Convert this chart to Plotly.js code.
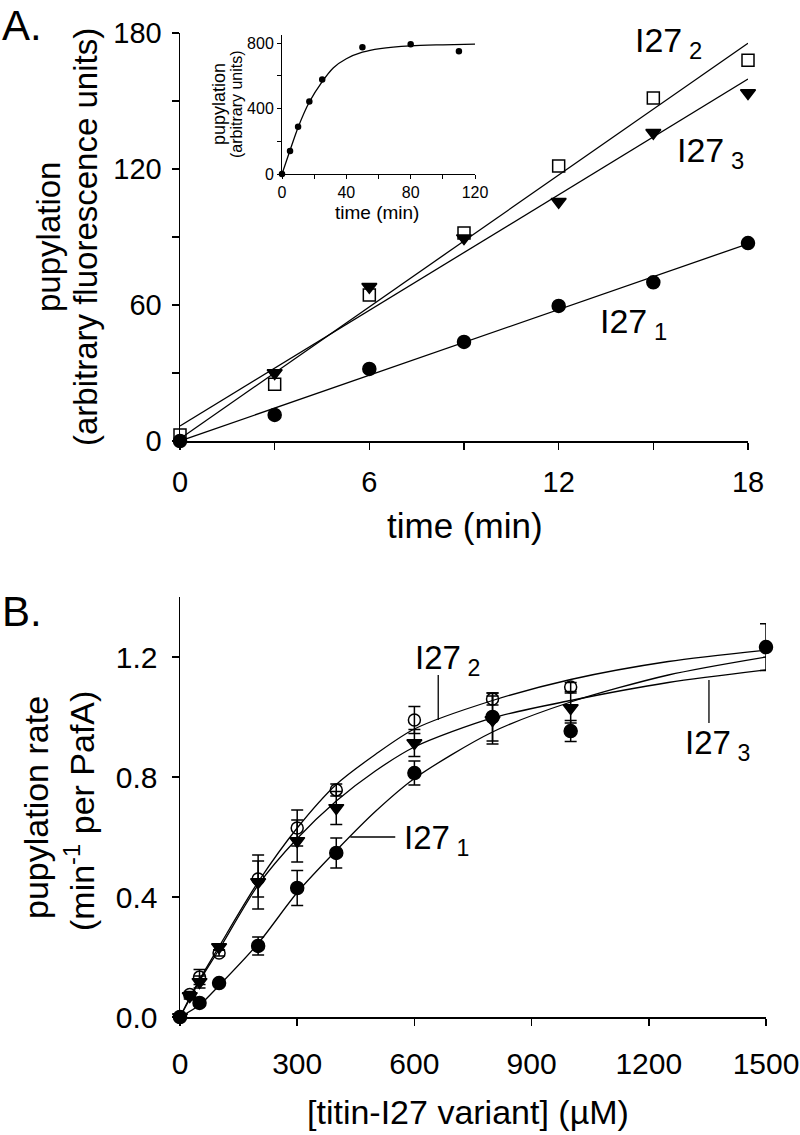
<!DOCTYPE html>
<html>
<head>
<meta charset="utf-8">
<script src="https://cdn.plot.ly/plotly-3.0.1.min.js"></script>
<style>
  html, body { margin: 0; padding: 0; background: #fff; }
  #chart { width: 800px; height: 1135px; }
</style>
</head>
<body>
<div id="chart"></div>
<script>
  // ---- panel A: pupylation vs time ----
  const aTime = [0, 3, 6, 9, 12, 15, 18];
  const aI27_1 = [0, 11.5, 31.8, 43.7, 59.6, 70, 87.3];
  const aI27_2 = [2.6, 25, 64.4, 91.8, 121.3, 151.3, 168];
  const aI27_3 = [-1, 30, 68, 89.5, 105.5, 136, 153.5];

  // linear fits, read at both ends of the axis
  const aFitTime = [0, 18];
  const aFit1 = [0, 87];
  const aFit2 = [1, 175.5];
  const aFit3 = [6.6, 159.7];

  const aTickX = [0, 3, 6, 9, 12, 15, 18];
  const aTickXText = ["0", "", "6", "", "12", "", "18"];
  const aTickY = [0, 30, 60, 90, 120, 150, 180];
  const aTickYText = ["0", "", "60", "", "120", "", "180"];

  // ---- inset: long time course ----
  const inTime = [0, 5, 10, 17, 25, 50, 80, 110];
  const inValue = [0, 141, 289, 443, 578, 775, 794, 750];
  const inFitTime = [0, 5, 10, 17, 25, 32, 40, 50, 61, 80, 100, 120];
  const inFitValue = [0, 145, 285, 440, 565, 650, 705, 745, 767, 784, 790, 794];
  const inTickX = [0, 20, 40, 60, 80, 100, 120];
  const inTickXText = ["0", "", "40", "", "80", "", "120"];
  const inTickY = [0, 200, 400, 600, 800];
  const inTickYText = ["0", "", "400", "", "800"];

  // ---- panel B: rate vs concentration ----
  const bConc1 = [0, 50, 100, 200, 300, 400, 600, 800, 1000, 1500];
  const bRate1 = [0, 0.047, 0.113, 0.237, 0.43, 0.547, 0.813, 1.0, 0.953, 1.233];
  const bErr1 = [0, 0.005, 0.01, 0.03, 0.058, 0.05, 0.04, 0.08, 0.035, 0.078];

  const bConc2 = [0, 25, 50, 100, 200, 300, 400, 600, 800, 1000];
  const bRate2 = [0, 0.075, 0.133, 0.213, 0.46, 0.63, 0.757, 0.99, 1.06, 1.1];
  const bErr2 = [0, 0.01, 0.025, 0.01, 0.06, 0.06, 0.02, 0.045, 0.02, 0.015];

  const bConc3 = [0, 25, 50, 100, 200, 300, 400, 600, 800, 1000];
  const bRate3 = [0, 0.07, 0.117, 0.233, 0.45, 0.587, 0.697, 0.913, 0.99, 1.03];
  const bErr3 = [0, 0.01, 0.02, 0.01, 0.09, 0.07, 0.055, 0.045, 0.08, 0.05];

  // fitted curves
  const bFitConc1 = [0, 50, 100, 200, 300, 400, 500, 600, 800, 1000, 1250, 1500];
  const bFitRate1 = [0, 0.04, 0.105, 0.245, 0.415, 0.555, 0.685, 0.795, 0.95, 1.05, 1.14, 1.2];
  const bFitConc2 = [0, 25, 50, 100, 200, 300, 400, 500, 600, 800, 1000, 1250, 1500];
  const bFitRate2 = [0, 0.065, 0.125, 0.235, 0.45, 0.63, 0.775, 0.875, 0.96, 1.055, 1.125, 1.185, 1.223];
  const bFitConc3 = [0, 25, 50, 100, 200, 300, 400, 500, 600, 800, 1000, 1250, 1500];
  const bFitRate3 = [0, 0.06, 0.12, 0.225, 0.44, 0.595, 0.72, 0.82, 0.9, 0.997, 1.055, 1.115, 1.157];

  const bTickX = [0, 300, 600, 900, 1200, 1500];
  const bTickY = [0, 0.4, 0.8, 1.2];

  const FONT = "Liberation Sans, Arial, Helvetica, sans-serif";
  const W = 800, H = 1135;
  const px = (v) => v / W;
  const py = (v) => 1 - v / H;

  function fitLine(x, y, xa, ya, spline) {
    return {
      type: "scatter", mode: "lines", x, y, xaxis: xa, yaxis: ya,
      line: { color: "#000", width: 1.3, shape: spline ? "spline" : "linear", smoothing: 0.8 },
      cliponaxis: false, hoverinfo: "skip"
    };
  }

  function markers(x, y, xa, ya, symbol, size, err) {
    const t = {
      type: "scatter", mode: "markers", x, y, xaxis: xa, yaxis: ya,
      cliponaxis: false,
      marker: { symbol, size, color: "#000", line: { color: "#000", width: 1.5 } }
    };
    if (err) {
      t.error_y = { type: "data", array: err, visible: true, color: "#000", thickness: 1.5, width: 6 };
    }
    return t;
  }

  const traces = [
    fitLine(aFitTime, aFit1, "x", "y"),
    fitLine(aFitTime, aFit2, "x", "y"),
    fitLine(aFitTime, aFit3, "x", "y"),
    markers(aTime, aI27_1, "x", "y", "circle", 13),
    markers(aTime, aI27_2, "x", "y", "square-open", 12),
    markers(aTime, aI27_3, "x", "y", "triangle-down", 13),

    fitLine(inFitTime, inFitValue, "x3", "y3", true),
    markers(inTime, inValue, "x3", "y3", "circle", 5),

    fitLine(bFitConc1, bFitRate1, "x2", "y2", true),
    fitLine(bFitConc2, bFitRate2, "x2", "y2", true),
    fitLine(bFitConc3, bFitRate3, "x2", "y2", true),
    markers(bConc1, bRate1, "x2", "y2", "circle", 13, bErr1),
    markers(bConc2, bRate2, "x2", "y2", "circle-open", 12, bErr2),
    markers(bConc3, bRate3, "x2", "y2", "triangle-down", 13, bErr3)
  ];

  function axis(extra) {
    return Object.assign({
      showline: true, linecolor: "#000", linewidth: 1.5,
      ticks: "outside", ticklen: 7, tickwidth: 1.5, tickcolor: "#000",
      showgrid: false, zeroline: false, fixedrange: true,
      tickfont: { family: FONT, size: 29, color: "#000" },
      tickmode: "array"
    }, extra);
  }

  function font(size) {
    return { family: FONT, size, color: "#000" };
  }

  function label(text, x, y, extra) {
    return Object.assign({
      xref: "paper", yref: "paper", x: px(x), y: py(y),
      text, showarrow: false, font: font(33),
      xanchor: "center", yanchor: "middle"
    }, extra);
  }

  const layout = {
    width: W, height: H,
    margin: { l: 0, r: 0, t: 0, b: 0 },
    paper_bgcolor: "#fff", plot_bgcolor: "rgba(0,0,0,0)",
    showlegend: false,
    font: { family: FONT, color: "#000" },

    xaxis: axis({
      domain: [px(180), px(748)], range: [0, 18], anchor: "y",
      tickvals: aTickX, ticktext: aTickXText, ticklabelstandoff: 8
    }),
    yaxis: axis({
      domain: [py(441), py(33)], range: [0, 180], anchor: "x",
      tickvals: aTickY, ticktext: aTickYText, ticklabelstandoff: 4
    }),

    xaxis3: axis({
      domain: [px(282), px(475)], range: [0, 120], anchor: "y3",
      tickvals: inTickX, ticktext: inTickXText, ticklen: 4, linewidth: 1, tickwidth: 1,
      tickfont: font(16)
    }),
    yaxis3: axis({
      domain: [py(174), py(35)], range: [0, 850], anchor: "x3",
      tickvals: inTickY, ticktext: inTickYText, ticklen: 4, linewidth: 1, tickwidth: 1,
      tickfont: font(16)
    }),

    xaxis2: axis({
      domain: [px(180), px(766)], range: [0, 1500], anchor: "y2",
      tickvals: bTickX, ticktext: bTickX.map(String), ticklabelstandoff: 12,
      tickfont: font(30)
    }),
    yaxis2: axis({
      domain: [py(1017), py(597)], range: [0, 1.4], anchor: "x2",
      tickvals: bTickY, ticktext: bTickY.map((v) => v.toFixed(1)), ticklabelstandoff: 8,
      tickfont: font(30)
    }),

    shapes: [
      { type: "line", xref: "x2", yref: "y2", x0: 661, x1: 661, y0: 0.99, y1: 1.14, line: { color: "#000", width: 1.3 } },
      { type: "line", xref: "x2", yref: "y2", x0: 1354, x1: 1354, y0: 0.98, y1: 1.123, line: { color: "#000", width: 1.3 } },
      { type: "line", xref: "x2", yref: "y2", x0: 436, x1: 551, y0: 0.6, y1: 0.6, line: { color: "#000", width: 1.3 } }
    ],

    annotations: [
      label("A.", 0, 0, { xanchor: "left", yanchor: "top", font: font(42) }),
      label("B.", 0, 611, { xanchor: "left", font: font(42) }),

      label("pupylation", 48, 237, { textangle: -90 }),
      label("(arbitrary fluorescence units)", 85, 237, { textangle: -90 }),
      label("time (min)", 465, 525, { font: font(35) }),

      label("pupylation", 219, 104, { textangle: -90, font: font(18) }),
      label("(arbitrary units)", 237, 104, { textangle: -90, font: font(16) }),
      label("time (min)", 377, 213, { font: font(19) }),

      label("I27&#8201;<sub>2</sub>", 633, 42, { xanchor: "left", font: font(34) }),
      label("I27&#8201;<sub>3</sub>", 675, 153, { xanchor: "left", font: font(34) }),
      label("I27&#8201;<sub>1</sub>", 598, 323, { xanchor: "left", font: font(34) }),

      label("pupylation rate", 36, 808, { textangle: -90, font: font(34) }),
      label("(min<sup>-1</sup> per PafA)", 79, 811, { textangle: -90, font: font(34) }),
      label("[titin-I27 variant] (µM)", 468, 1112, { font: font(34) }),

      label("I27&#8201;<sub>2</sub>", 413, 660, { xanchor: "left", font: font(33) }),
      label("I27&#8201;<sub>3</sub>", 683, 745, { xanchor: "left", font: font(33) }),
      label("I27&#8201;<sub>1</sub>", 402, 840, { xanchor: "left", font: font(33) })
    ]
  };

  Plotly.newPlot("chart", traces, layout, { staticPlot: true, displayModeBar: false });
</script>
</body>
</html>
